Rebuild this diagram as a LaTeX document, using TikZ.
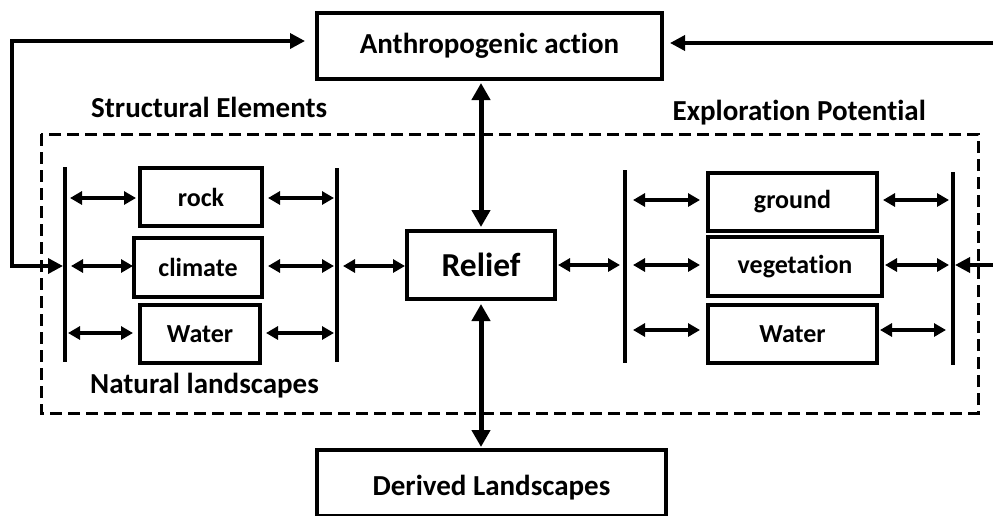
\documentclass[tikz,border=0pt]{standalone}
\usepackage{fontspec}
\setmainfont{Carlito}[Ligatures=NoCommon]
\usetikzlibrary{arrows.meta}
\begin{document}
\begin{tikzpicture}[x=1pt,y=-1pt,
  box/.style={draw, line width=3.2pt, inner sep=0pt, outer sep=0pt, font=\bfseries\fontsize{29}{34}\selectfont},
  sbox/.style={box, font=\bfseries\fontsize{26}{30}\selectfont},
  lbl/.style={inner sep=0pt, font=\bfseries\fontsize{29}{34}\selectfont},
  bar/.style={line width=3.2pt},
  dbl/.style={line width=3.2pt, {Triangle[length=12pt,width=13pt]}-{Triangle[length=12pt,width=13pt]}},
  big/.style={line width=5pt, {Triangle[length=17pt,width=18pt]}-{Triangle[length=17pt,width=18pt]}},
  fb/.style={line width=3.5pt, -{Triangle[length=15pt,width=15pt]}},
  fbb/.style={line width=3.5pt, {Triangle[length=15pt,width=15pt]}-{Triangle[length=15pt,width=15pt]}},
  dashbox/.style={line width=3pt, dash pattern=on 12pt off 6pt}
]
\useasboundingbox (0,0) rectangle (993,515);

% dashed frame
\draw[dashbox] (41,134) rectangle (978,413);

% main boxes
\node[box, minimum width=345pt, minimum height=66pt] (anth) at (489.5,46) {Anthropogenic action};
\node[box, font=\bfseries\fontsize{33.5}{38}\selectfont, minimum width=148pt, minimum height=68pt] (relief) at (481,265) {Relief};
\node[box, minimum width=349pt, minimum height=66pt, text height=24pt, text depth=0pt] (derived) at (491.5,483) {Derived Landscapes};

% left group
\node[sbox, minimum width=122pt, minimum height=58pt] (rock) at (201,197) {rock};
\node[sbox, minimum width=128pt, minimum height=59pt] (climate) at (198,267.5) {climate};
\node[sbox, minimum width=120pt, minimum height=58pt] (lwater) at (200,334) {Water};

% right group
\node[sbox, minimum width=169pt, minimum height=58pt] (ground) at (792.5,202) {ground};
\node[sbox, minimum width=174pt, minimum height=59pt] (veg) at (795,266.5) {vegetation};
\node[sbox, minimum width=169pt, minimum height=58pt] (rwater) at (792.5,334) {Water};

% labels
\node[lbl, anchor=base west] (se) at (91,117.5) {Structural Elements};
\node[lbl, anchor=base east] (ep) at (926,120) {Exploration Potential};
\node[lbl, anchor=base west] (nl) at (90,393) {Natural landscapes};

% bars
\coordinate (L1t) at (65,167);  \coordinate (L1b) at (65,362);
\coordinate (L2t) at (337,168); \coordinate (L2b) at (337,362);
\coordinate (R1t) at (625,170); \coordinate (R1b) at (625,363);
\coordinate (R2t) at (953,172); \coordinate (R2b) at (953,365);
\draw[bar] (L1t) -- (L1b);
\draw[bar] (L2t) -- (L2b);
\draw[bar] (R1t) -- (R1b);
\draw[bar] (R2t) -- (R2b);

\coordinate (l1a) at (65,198);  \coordinate (l1b) at (65,266);  \coordinate (l1c) at (65,333);
\coordinate (l2a) at (337,198); \coordinate (l2b) at (337,266); \coordinate (l2c) at (337,333);
\coordinate (r1a) at (625,200); \coordinate (r1b) at (625,265); \coordinate (r1c) at (625,330);
\coordinate (r2a) at (953,200); \coordinate (r2b) at (953,265); \coordinate (r2c) at (953,330);

% left group arrows
\draw[dbl, shorten <=5pt, shorten >=4pt] (l1a) -- (l1a -| rock.west);
\draw[dbl, shorten <=6pt, shorten >=1pt] (l1b) -- (l1b -| climate.west);
\draw[dbl, shorten <=3pt, shorten >=7pt] (l1c) -- (l1c -| lwater.west);
\draw[dbl, shorten <=6pt, shorten >=3pt] (rock.east |- l2a) -- (l2a);
\draw[dbl, shorten <=6pt, shorten >=3pt] (climate.east |- l2b) -- (l2b);
\draw[dbl, shorten <=6pt, shorten >=3pt] (lwater.east |- l2c) -- (l2c);

% relief links
\draw[dbl, shorten <=6pt, shorten >=2pt] (l2b) -- (l2b -| relief.west);
\draw[dbl, shorten <=3pt, shorten >=5pt] (relief.east |- r1b) -- (r1b);

% right group arrows
\draw[dbl, shorten <=8pt, shorten >=8pt] (r1a) -- (r1a -| ground.west);
\draw[dbl, shorten <=8pt, shorten >=8pt] (r1b) -- (r1b -| veg.west);
\draw[dbl, shorten <=8pt, shorten >=8pt] (r1c) -- (r1c -| rwater.west);
\draw[dbl, shorten <=6pt, shorten >=4pt] (ground.east |- r2a) -- (r2a);
\draw[dbl, shorten <=3pt, shorten >=4pt] (veg.east |- r2b) -- (r2b);
\draw[dbl, shorten <=3pt, shorten >=7pt] (rwater.east |- r2c) -- (r2c);

% vertical links
\draw[big, shorten <=4pt, shorten >=4pt] (relief.north |- anth.south) -- (relief.north);
\draw[big, shorten <=5pt, shorten >=3pt] (relief.south) -- (relief.south |- derived.north);

% feedback loops
\coordinate (fbT) at (12,41);
\coordinate (fbB) at (12,266);
\draw[fbb, shorten <=2pt, shorten >=12pt] (l1b) -- (fbB) -- (fbT) -- (fbT -| anth.west);
\coordinate (rT) at (993,43);
\coordinate (rM) at (993,265);
\draw[fb, shorten >=8pt] (rT) -- (rT -| anth.east);
\draw[fb, shorten >=2pt] (rM) -- (r2b);
\end{tikzpicture}
\end{document}
